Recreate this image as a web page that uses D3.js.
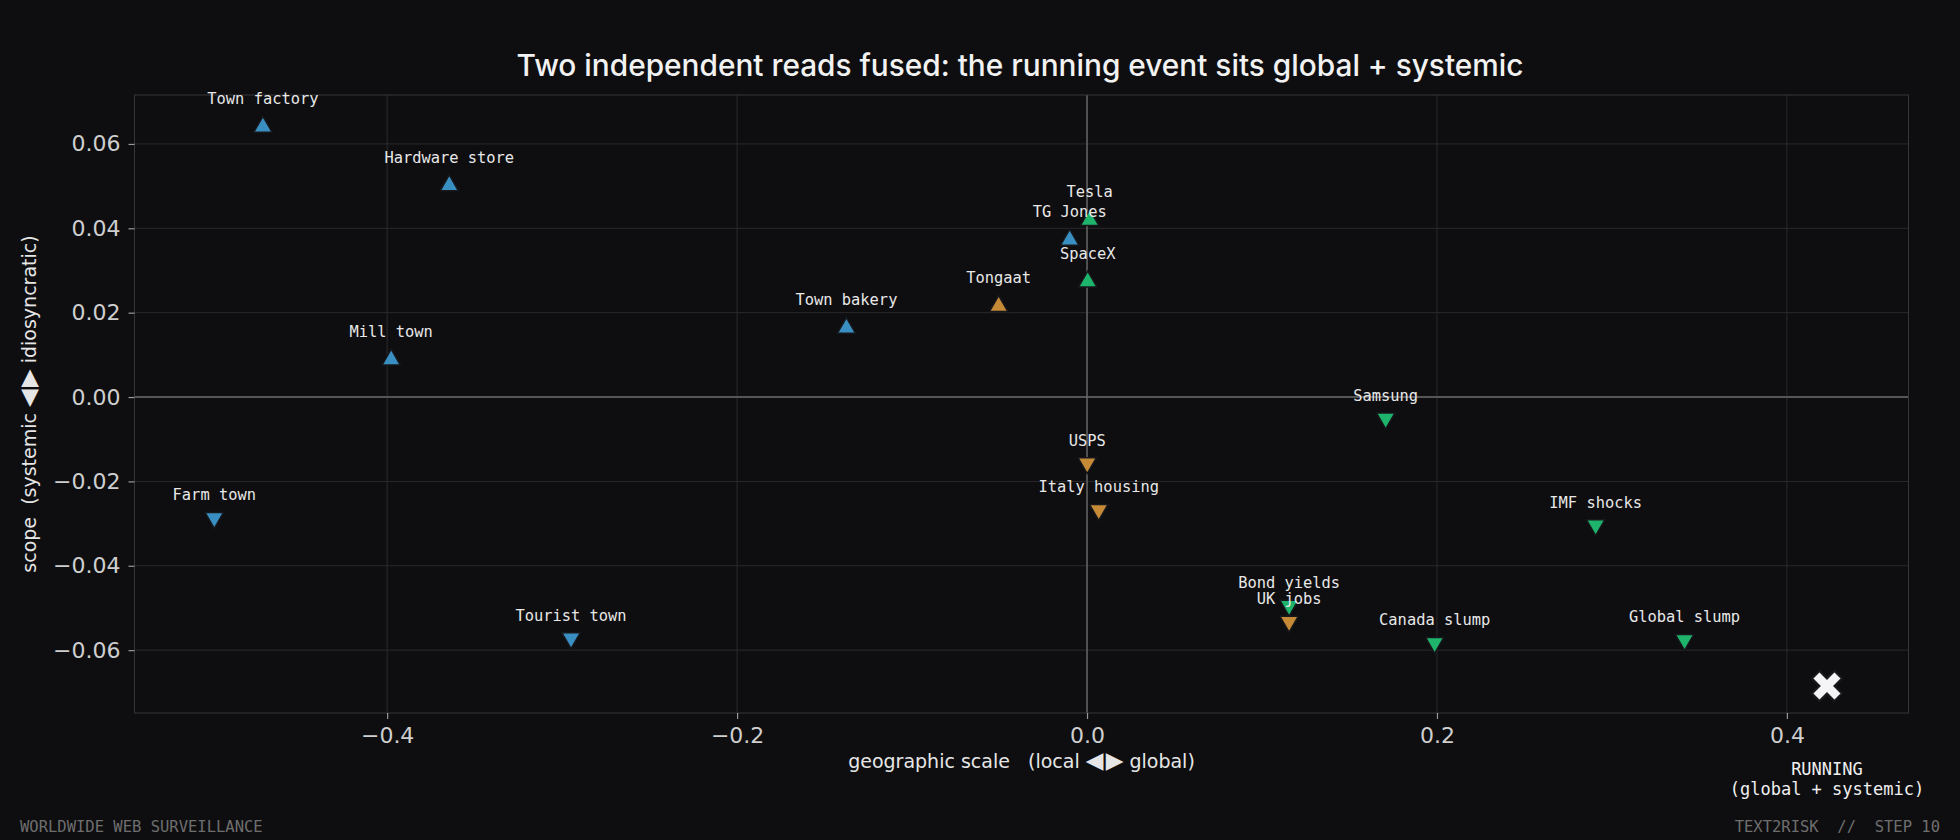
<!DOCTYPE html>
<html>
<head>
<meta charset="utf-8">
<script src="https://cdn.jsdelivr.net/npm/d3@7/dist/d3.min.js"></script>
<style>
  html, body { margin: 0; padding: 0; background: #0e0e10; }
  svg { display: block; }
  svg text { white-space: pre; }
</style>
</head>
<body>
<svg id="chart" width="1960" height="840"></svg>
<script>
// each event: label, geographic scale (x), scope (y), reach bucket
const names = ['Town factory', 'Hardware store', 'Mill town', 'Farm town', 'Tourist town', 'Town bakery',
  'TG Jones', 'Tongaat', 'Tesla', 'SpaceX', 'USPS', 'Italy housing', 'Bond yields', 'UK jobs',
  'Samsung', 'IMF shocks', 'Canada slump', 'Global slump'];
const geoScale = [-0.471, -0.3645, -0.3977, -0.4988, -0.2949, -0.1375,
  -0.0099, -0.0505, 0.0015, 0.0004, 0.0001, 0.0067, 0.1155, 0.1155,
  0.1707, 0.2907, 0.1987, 0.3415];
const scope = [0.0644, 0.0505, 0.0092, -0.029, -0.0575, 0.0167,
  0.0376, 0.0219, 0.0423, 0.0277, -0.016, -0.0271, -0.0498, -0.0536,
  -0.0054, -0.0307, -0.0586, -0.0579];
const reach = ['local', 'local', 'local', 'local', 'local', 'local',
  'local', 'national', 'global', 'global', 'national', 'national', 'global', 'national',
  'global', 'global', 'global', 'global'];

const running = { x: 0.4229, y: -0.0685, label: ['RUNNING', '(global + systemic)'] };

const xTicks = [-0.4, -0.2, 0.0, 0.2, 0.4];
const yTicks = [-0.06, -0.04, -0.02, 0.0, 0.02, 0.04, 0.06];

const reachColor = { local: '#3a8fc2', national: '#c68935', global: '#1fb46c' };
const bg = '#0e0e10';

const svg = d3.select('#chart');
const W = 1960, H = 840;
const plot = { left: 134.5, right: 1908.5, top: 95, bottom: 713 };

svg.append('rect').attr('width', W).attr('height', H).attr('fill', bg);

const x = d3.scaleLinear().domain([-0.5444, 0.4695]).range([plot.left, plot.right]);
const y = d3.scaleLinear().domain([-0.0749, 0.0716]).range([plot.bottom, plot.top]);

// grid
const grid = svg.append('g');
grid.selectAll('.gx').data(xTicks).join('line')
  .attr('x1', d => x(d)).attr('x2', d => x(d))
  .attr('y1', plot.top).attr('y2', plot.bottom)
  .attr('stroke', '#2a2a2e').attr('stroke-width', 1);
grid.selectAll('.gy').data(yTicks).join('line')
  .attr('x1', plot.left).attr('x2', plot.right)
  .attr('y1', d => y(d)).attr('y2', d => y(d))
  .attr('stroke', '#2a2a2e').attr('stroke-width', 1);

// zero lines
svg.append('line')
  .attr('x1', x(0)).attr('x2', x(0)).attr('y1', plot.top).attr('y2', plot.bottom)
  .attr('stroke', '#686868').attr('stroke-width', 1.4);
svg.append('line')
  .attr('x1', plot.left).attr('x2', plot.right).attr('y1', y(0)).attr('y2', y(0))
  .attr('stroke', '#686868').attr('stroke-width', 1.4);

// frame
svg.append('rect')
  .attr('x', plot.left).attr('y', plot.top)
  .attr('width', plot.right - plot.left).attr('height', plot.bottom - plot.top)
  .attr('fill', 'none').attr('stroke', '#36363a').attr('stroke-width', 1);

// axes
const xAxis = svg.append('g')
  .attr('transform', `translate(0,${plot.bottom})`)
  .call(d3.axisBottom(x).tickValues(xTicks).tickFormat(d3.format('.1f')).tickSize(6).tickPadding(8));
const yAxis = svg.append('g')
  .attr('transform', `translate(${plot.left},0)`)
  .call(d3.axisLeft(y).tickValues(yTicks).tickFormat(d3.format('.2f')).tickSize(6).tickPadding(8));
[xAxis, yAxis].forEach(a => {
  a.select('.domain').remove();
  a.selectAll('.tick line').attr('stroke', '#9a9a9a').attr('stroke-width', 1.2);
  a.selectAll('.tick text')
    .attr('fill', '#cfcfcf')
    .attr('font-family', 'DejaVu Sans')
    .attr('font-size', '22px');
});

// axis titles, arrows kept in their own tspan so they get the right glyph size
const axisTitle = (sel, before, after) => {
  sel.append('tspan').text(before);
  sel.append('tspan').attr('font-family', 'DejaVu Sans').attr('font-size', '23px').text('\u25C0\u200A\u25B6');
  sel.append('tspan').text(after);
};
const xTitle = svg.append('text')
  .attr('x', (plot.left + plot.right) / 2).attr('y', 768)
  .attr('text-anchor', 'middle')
  .attr('fill', '#e6e6e6')
  .attr('font-family', 'DejaVu Sans')
  .attr('font-size', '19px');
axisTitle(xTitle, 'geographic scale   (local ', ' global)');
const yTitle = svg.append('text')
  .attr('transform', `translate(36,${(plot.top + plot.bottom) / 2}) rotate(-90)`)
  .attr('text-anchor', 'middle')
  .attr('fill', '#e6e6e6')
  .attr('font-family', 'DejaVu Sans')
  .attr('font-size', '19px');
axisTitle(yTitle, 'scope  (systemic ', ' idiosyncratic)');

// title
svg.append('text')
  .attr('x', 1020).attr('y', 76)
  .attr('text-anchor', 'middle')
  .attr('fill', '#f2f2f2')
  .attr('font-family', 'Inter')
  .attr('font-weight', 500)
  .attr('font-size', '29.8px')
  .text('Two independent reads fused: the running event sits global + systemic');

// markers
const events = names.map((n, i) => ({ name: n, gx: geoScale[i], sc: scope[i], reach: reach[i] }));
const tri = d3.symbol().type(d3.symbolTriangle).size(145);

svg.append('g').selectAll('path').data(events).join('path')
  .attr('d', tri)
  .attr('transform', d => `translate(${x(d.gx)},${y(d.sc) + (d.sc >= 0 ? 1.5 : -1.5)}) rotate(${d.sc >= 0 ? 0 : 180})`)
  .attr('fill', d => reachColor[d.reach])
  .attr('stroke', '#16181c').attr('stroke-width', 1.5);

// labels on top of markers
svg.append('g').selectAll('text').data(events).join('text')
  .attr('x', d => x(d.gx))
  .attr('y', d => y(d.sc) - (d.sc >= 0 ? 21.5 : 19))
  .attr('text-anchor', 'middle')
  .attr('fill', '#e8e8e8')
  .attr('font-family', 'DejaVu Sans Mono')
  .attr('font-size', '15.4px')
  .text(d => d.name);

// running event
svg.append('path')
  .attr('d', d3.symbol().type(d3.symbolCross).size(560))
  .attr('transform', `translate(${x(running.x)},${y(running.y)}) rotate(45)`)
  .attr('fill', '#f5f5f7')
  .attr('stroke', '#1a1a1e').attr('stroke-width', 2);

svg.append('g').selectAll('text').data(running.label).join('text')
  .attr('x', x(running.x))
  .attr('y', (d, i) => 775 + i * 20)
  .attr('text-anchor', 'middle')
  .attr('fill', '#f0f0f0')
  .attr('font-family', 'DejaVu Sans Mono')
  .attr('font-size', '17px')
  .text(d => d);

// footer
svg.append('text')
  .attr('x', 20).attr('y', 832)
  .attr('fill', '#6e6e6e')
  .attr('font-family', 'DejaVu Sans Mono')
  .attr('font-size', '15.5px')
  .text('WORLDWIDE WEB SURVEILLANCE');
svg.append('text')
  .attr('x', 1940).attr('y', 832)
  .attr('text-anchor', 'end')
  .attr('fill', '#6e6e6e')
  .attr('font-family', 'DejaVu Sans Mono')
  .attr('font-size', '15.5px')
  .text('TEXT2RISK  //  STEP 10');
</script>
</body>
</html>
